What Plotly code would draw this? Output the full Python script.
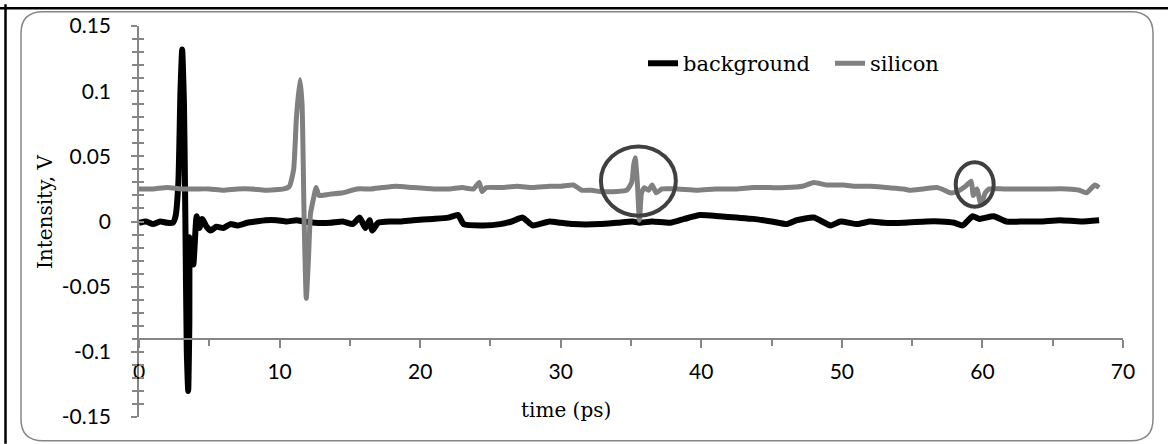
import plotly.graph_objects as go

# ---------------- data ----------------
bg_time = [0, 0.5, 1.0, 1.5, 2.0, 2.4, 2.6, 2.8, 2.95, 3.07, 3.2, 3.3, 3.4, 3.5, 3.58, 3.62,
           3.75, 3.87, 3.95, 4.1, 4.3, 4.5, 4.8, 5.1, 5.5, 6.0, 6.5, 7.0, 7.7, 8.3, 9.0, 9.8,
           10.5, 11.2, 11.7, 12.5, 13.6, 14.5, 15.2, 15.7, 16.1, 16.4, 16.6, 17.0, 17.9, 18.6,
           19.5, 20.9, 22.0, 22.7, 23.1, 24.5, 25.7, 26.5, 27.3, 28.0, 29.2, 30.0, 30.9, 32.8,
           34.0, 35.1, 35.6, 36.5, 37.8, 38.8, 39.9, 41.3, 42.5, 43.7, 45.0, 46.1, 46.8, 48.0,
           49.2, 49.9, 51.1, 52.0, 53.0, 54.4, 56.0, 57.0, 58.0, 58.6, 59.3, 59.8, 60.8, 61.7,
           63.0, 64.1, 65.5, 67.0, 68.3]
bg_volt = [-0.001, 0.000, -0.002, 0.000, -0.001, -0.001, 0.004, 0.030, 0.100, 0.132, 0.090,
           0.000, -0.100, -0.130, -0.080, -0.012, -0.020, -0.033, -0.020, 0.004, -0.005, 0.002,
           -0.004, -0.007, -0.004, -0.005, -0.002, -0.003, -0.001, 0.000, 0.001, 0.001, 0.000,
           0.001, 0.000, -0.001, -0.001, 0.000, -0.002, 0.003, -0.005, 0.001, -0.007, -0.001,
           0.000, 0.000, 0.001, 0.002, 0.003, 0.005, -0.002, -0.003, -0.002, 0.000, 0.003,
           -0.003, 0.000, -0.001, -0.002, -0.002, -0.001, 0.000, -0.001, 0.000, -0.001, 0.002,
           0.005, 0.004, 0.003, 0.002, 0.000, -0.002, 0.001, 0.003, -0.003, 0.000, -0.002,
           0.000, -0.001, -0.001, 0.000, 0.000, -0.001, -0.003, 0.004, 0.002, 0.004, 0.000,
           0.000, 0.000, 0.001, 0.000, 0.001]

si_time = [0, 1, 2, 3, 4, 5, 6, 7, 8, 9, 10.3, 10.7, 11.0, 11.2, 11.45, 11.6, 11.75, 11.9,
           12.05, 12.2, 12.4, 12.6, 12.8, 13.0, 13.6, 14.5, 15.5, 16.5, 17.3, 18.3, 19.5, 21.0,
           22.1, 23.0, 23.8, 24.2, 24.4, 24.7, 25.8, 26.9, 28.0, 29.2, 30.0, 30.9, 31.5, 32.2,
           32.8, 34.0, 34.7, 35.05, 35.2, 35.3, 35.45, 35.6, 35.75, 35.95, 36.25, 36.5, 36.8,
           37.2, 38.3, 39.7, 41.0, 42.5, 43.7, 44.9, 46.0, 47.2, 48.0, 48.9, 50.1, 51.0, 52.0,
           53.2, 54.4, 54.8, 55.8, 56.8, 57.3, 57.7, 58.2, 58.8, 59.2, 59.35, 59.6, 59.9, 60.2,
           60.5, 61.5, 63.0, 64.5, 66.0, 66.9, 67.4, 68.0, 68.3]
si_volt = [0.025, 0.025, 0.026, 0.025, 0.025, 0.025, 0.024, 0.025, 0.025, 0.024, 0.025, 0.027,
           0.040, 0.080, 0.109, 0.090, 0.000, -0.059, -0.030, 0.006, 0.017, 0.026, 0.020, 0.020,
           0.021, 0.022, 0.025, 0.025, 0.026, 0.027, 0.026, 0.025, 0.025, 0.026, 0.025, 0.030,
           0.023, 0.026, 0.026, 0.027, 0.026, 0.027, 0.027, 0.028, 0.024, 0.024, 0.023, 0.023,
           0.024, 0.030, 0.044, 0.049, 0.030, 0.001, 0.022, 0.026, 0.024, 0.028, 0.022, 0.025,
           0.025, 0.024, 0.025, 0.025, 0.026, 0.026, 0.026, 0.027, 0.030, 0.028, 0.028, 0.027,
           0.027, 0.026, 0.025, 0.024, 0.025, 0.026, 0.024, 0.022, 0.023, 0.027, 0.031, 0.020,
           0.025, 0.013, 0.022, 0.025, 0.025, 0.025, 0.025, 0.025, 0.024, 0.022, 0.028, 0.026]

series_names = ["background", "silicon"]
y_tickvals = [0.15, 0.1, 0.05, 0, -0.05, -0.1, -0.15]
y_ticktext = ["0.15", "0.1", "0.05", "0", "-0.05", "-0.1", "-0.15"]
# highlighted features (time range, voltage range)
highlights = [(32.86, 38.19, 0.0045, 0.0576), (58.1, 60.8, 0.0114, 0.0455)]

# ---------------- layout geometry ----------------
W, H = 1168, 444
ML, MR, MT, MB = 139, 45, 22, 27
PW, PH = W - ML - MR, H - MT - MB


def px(xp):
    return (xp - ML) / PW


def py(yp):
    return (H - MB - yp) / PH


AXIS = "#868686"
TICKFONT = dict(family="Lato, Open Sans, sans-serif", size=21, color="#000000")
SERIF = "DejaVu Serif, Liberation Serif, serif"

fig = go.Figure()
fig.add_trace(go.Scatter(x=bg_time, y=bg_volt, mode="lines", name=series_names[0],
                         line=dict(color="#000000", width=6, shape="spline", smoothing=0.5)))
fig.add_trace(go.Scatter(x=si_time, y=si_volt, mode="lines", name=series_names[1],
                         line=dict(color="#808080", width=5, shape="spline", smoothing=0.5)))
# helper empty trace for the inside-tick overlay axis
fig.add_trace(go.Scatter(x=[], y=[], yaxis="y2", showlegend=False, hoverinfo="skip"))

shapes = []
for (x0, x1, y0, y1) in highlights:
    shapes.append(dict(type="circle", xref="x", yref="y", x0=x0, x1=x1, y0=y0, y1=y1,
                       line=dict(color="#404040", width=4)))

# rounded grey frame
L, R, T, B, r = 21, 1153, 7.5, 441, 22
path = (f"M {px(L + r)},{py(T)} L {px(R - r)},{py(T)} Q {px(R)},{py(T)} {px(R)},{py(T + r)} "
        f"L {px(R)},{py(B - r)} Q {px(R)},{py(B)} {px(R - r)},{py(B)} "
        f"L {px(L + r)},{py(B)} Q {px(L)},{py(B)} {px(L)},{py(B - r)} "
        f"L {px(L)},{py(T + r)} Q {px(L)},{py(T)} {px(L + r)},{py(T)} Z")
shapes.append(dict(type="path", xref="paper", yref="paper", path=path,
                   line=dict(color=AXIS, width=1.5)))
# black outer edges (top and left)
shapes.append(dict(type="line", xref="paper", yref="paper", x0=px(0), x1=px(W), y0=py(4), y1=py(4),
                   line=dict(color="#000000", width=2.5)))
shapes.append(dict(type="line", xref="paper", yref="paper", x0=px(5.5), x1=px(5.5), y0=py(0), y1=py(H),
                   line=dict(color="#000000", width=2.5)))

fig.update_layout(
    width=W, height=H,
    margin=dict(l=ML, r=MR, t=MT, b=MB, pad=0),
    paper_bgcolor="#ffffff", plot_bgcolor="#ffffff",
    showlegend=True,
    legend=dict(orientation="h", x=px(643), y=py(60), xanchor="left", yanchor="middle",
                font=dict(family=SERIF, size=21, color="#000000"), bgcolor="rgba(0,0,0,0)",
                itemwidth=30, tracegroupgap=0, entrywidth=142, entrywidthmode="pixels"),
    xaxis=dict(range=[0, 70], anchor="free", position=0.2, showgrid=False, zeroline=False,
               showline=True, linecolor=AXIS, linewidth=1.5,
               tickmode="linear", tick0=0, dtick=10,
               ticks="outside", ticklen=8, tickwidth=1.5, tickcolor=AXIS,
               minor=dict(tickmode="linear", tick0=0, dtick=5, ticks="outside", ticklen=6,
                          tickwidth=1.5, tickcolor=AXIS),
               tickfont=TICKFONT, ticklabelstandoff=6),
    yaxis=dict(range=[-0.15, 0.15], showgrid=False, zeroline=False,
               showline=True, linecolor=AXIS, linewidth=1.5,
               tickmode="array", tickvals=y_tickvals, ticktext=y_ticktext,
               ticks="outside", ticklen=6, tickwidth=1.5, tickcolor=AXIS,
               minor=dict(dtick=0.01, ticks="outside", ticklen=5, tickwidth=1.5, tickcolor=AXIS),
               tickfont=TICKFONT, ticklabelstandoff=16),
    yaxis2=dict(range=[-0.15, 0.15], overlaying="y", side="left", anchor="x",
                showgrid=False, zeroline=False, showline=False, showticklabels=False,
                tickmode="array", tickvals=y_tickvals,
                ticks="inside", ticklen=5, tickwidth=1.5, tickcolor=AXIS,
                minor=dict(dtick=0.01, ticks="inside", ticklen=5, tickwidth=1.5, tickcolor=AXIS)),
    shapes=shapes,
    annotations=[
        dict(text="Intensity, V", xref="paper", yref="paper", x=px(45), y=py(210),
             textangle=-90, showarrow=False, xanchor="center", yanchor="middle",
             font=dict(family=SERIF, size=20, color="#000000")),
        dict(text="time (ps)", xref="paper", yref="paper", x=px(566), y=py(410),
             showarrow=False, xanchor="center", yanchor="middle",
             font=dict(family=SERIF, size=20, color="#000000")),
    ],
)

fig.write_html("out.html")
